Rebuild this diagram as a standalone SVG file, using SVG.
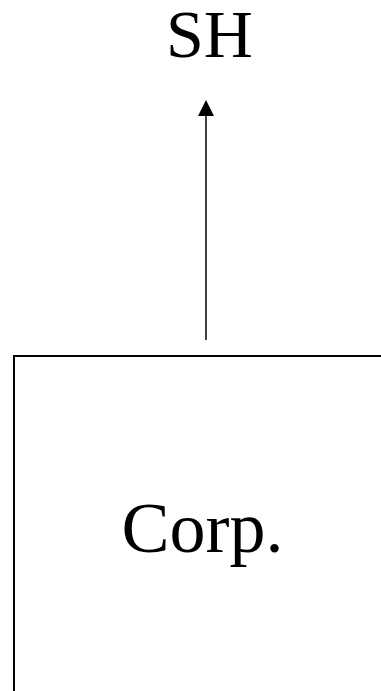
<svg xmlns="http://www.w3.org/2000/svg" width="381" height="691" viewBox="0 0 381 691">
<style>
text{font-family:"Liberation Serif","Times New Roman",serif;fill:#000;text-anchor:middle}
.box{fill:#fff;stroke:#000;stroke-width:2}
.conn{stroke:#000;stroke-width:1.5;fill:none}
</style>
<defs>
<marker id="ah" markerUnits="userSpaceOnUse" markerWidth="16" markerHeight="18" refX="8" refY="1" orient="auto-start-reverse" viewBox="0 0 16 18">
<path d="M1,17 L8,1 L15,17 Z" fill="#000"/>
</marker>
</defs>
<rect width="381" height="691" fill="#fff"/>
<g id="connectors">
<line class="conn" x1="206" y1="340" x2="206" y2="114"/>
<path d="M198,116 L206,100 L214,116 Z" fill="#000"/>
</g>
<g id="sh">
<text x="209.5" y="57" font-size="68">SH</text>
</g>
<g id="corp">
<rect class="box" x="14" y="356" width="380" height="350"/>
<text x="202.5" y="552" font-size="72">Corp.</text>
</g>
</svg>
